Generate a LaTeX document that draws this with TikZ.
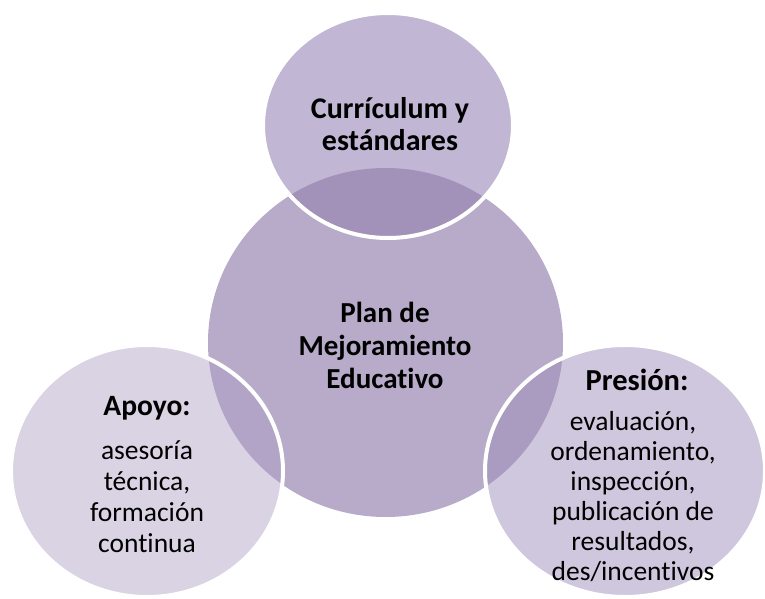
\documentclass[tikz,border=0pt]{standalone}
\usepackage{fontspec}
\setmainfont[Ligatures=NoCommon]{Carlito}
\usetikzlibrary{positioning}

\definecolor{centro}{HTML}{B8ABCA}
\definecolor{arriba}{HTML}{C1B6D3}
\definecolor{arribaint}{HTML}{A292B9}
\definecolor{izq}{HTML}{D9D3E3}
\definecolor{izqint}{HTML}{B1A4C6}
\definecolor{der}{HTML}{CFC7DD}
\definecolor{derint}{HTML}{A99CC0}

% circulos
\newcommand{\plan}{(385.5,342.5) ellipse [x radius=177.5, y radius=174.5]}
\newcommand{\curr}{(388,125.5) ellipse [x radius=125, y radius=112.5]}
\newcommand{\apoyo}{(147,471) ellipse [x radius=136, y radius=126]}
\newcommand{\presion}{(625,471) ellipse [x radius=140, y radius=126]}

\begin{document}
\begin{tikzpicture}[x=1pt, y=-1pt,
    texto/.style={align=center, inner sep=0pt, text=black},
    borde/.style={draw=white, line width=4pt}]
    \useasboundingbox (0,0) rectangle (765,599);

    \fill[centro] \plan;

    % Curriculum
    \fill[arriba] \curr;
    \begin{scope}
        \clip \plan;
        \fill[arribaint] \curr;
    \end{scope}
    \path[borde] \curr;

    % Apoyo
    \fill[izq] \apoyo;
    \begin{scope}
        \clip \plan;
        \fill[izqint] \apoyo;
    \end{scope}
    \path[borde] \apoyo;

    % Presion
    \fill[der] \presion;
    \begin{scope}
        \clip \plan;
        \fill[derint] \presion;
    \end{scope}
    \path[borde] \presion;

    \node[texto, font=\fontsize{30}{32}\selectfont\bfseries] (currTxt) at (390,124)
        {Currículum y\\estándares};
    \node[texto, font=\fontsize{29}{33}\selectfont\bfseries] (planTxt) at (385,345)
        {Plan de\\Mejoramiento\\Educativo};

    \node[texto, font=\fontsize{29.5}{31}\selectfont\bfseries] (apoyoTit) at (147,408) {Apoyo:};
    \node[texto, font=\fontsize{27.5}{31}\selectfont] (apoyoTxt) at (147,497)
        {asesoría\\técnica,\\formación\\continua};

    \node[texto, font=\fontsize{30.5}{30}\selectfont\bfseries] (presTit) at (637,380) {Presión:};
    \node[texto, font=\fontsize{27.5}{30}\selectfont] (presTxt) at (633,497)
        {evaluación,\\ordenamiento,\\inspección,\\publicación de\\resultados,\\des/incentivos};
\end{tikzpicture}
\end{document}
